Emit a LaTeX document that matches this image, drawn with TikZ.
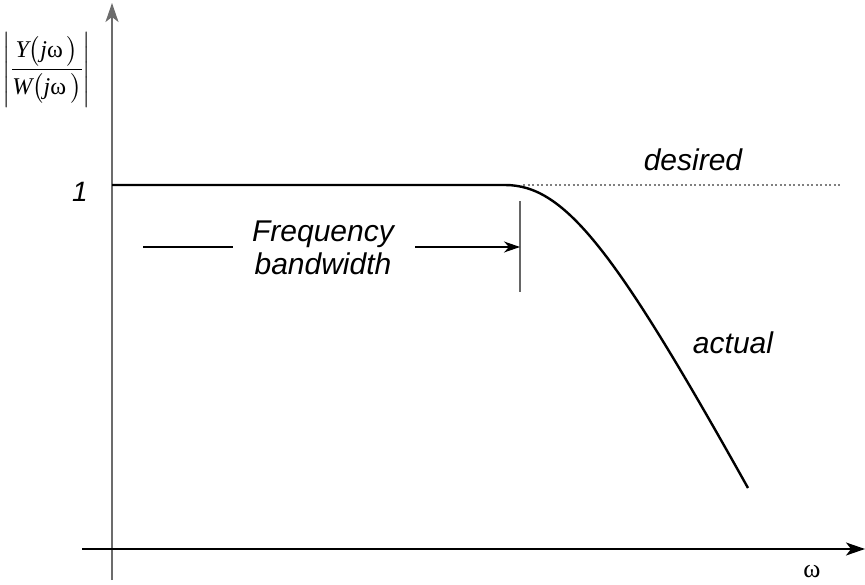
\documentclass[tikz,border=0pt]{standalone}
\usepackage{fontspec}
\usepackage{amsmath}
\setmainfont{Liberation Sans}
\newfontfamily\tfont{Liberation Serif}
\usetikzlibrary{arrows.meta}
\tikzset{
  axisline/.style={line width=1.4pt, -{Stealth[length=19pt, width=13pt, inset=5pt]}},
  curveline/.style={line width=2.4pt, black},
  lbl/.style={font=\fontsize{30}{33}\selectfont\itshape, inner sep=0pt, align=center},
  dimarrow/.style={line width=1.1pt, -{Stealth[length=16pt, width=11pt, inset=5pt]}},
}
\begin{document}
\begin{tikzpicture}[x=1pt, y=-1pt]
\useasboundingbox (0,0) rectangle (865,585);
% axes
\coordinate (ybot) at (112,580);
\coordinate (ytop) at (112,3);
\coordinate (xleft) at (82,549);
\coordinate (xright) at (865,549);
\draw[axisline, draw=gray!85!black, line width=1.8pt] (ybot) -- (ytop);
\draw[axisline] (xleft) -- (xright);
% ideal response
\coordinate (dstart) at (523,185);
\coordinate (dend) at (840,185);
\draw[gray, line width=1.2pt, dash pattern=on 2pt off 2.5pt] (dstart) -- (dend);
% real response
\coordinate (c0) at (112,185);
\coordinate (c1) at (505,185);
\coordinate (c3) at (748,488);
\draw[curveline] (c0) -- (c1) .. controls (565,185) and (615,250) .. (c3);
% bandwidth marker
\coordinate (tickt) at (520,201);
\coordinate (tickb) at (520,292);
\draw[gray!80!black, line width=1.3pt] (tickt) -- (tickb);
\node[lbl] (fb) at (323,248) {Frequency\\bandwidth};
\coordinate (bwl) at (143,247);
\coordinate (bwla) at (233,247);
\coordinate (bwr) at (415,247);
\draw[line width=1.1pt] (bwl) -- (bwla);
\draw[dimarrow] (bwr) -- (tickt |- bwr);
% labels
\node[lbl] (des) at (693,160) {desired};
\node[lbl] (act) at (733,343) {actual};
\node[lbl, font=\fontsize{28}{30}\selectfont\itshape] (one) at (80,192) {1};
\node[inner sep=0pt, font=\fontsize{26}{28}\selectfont\tfont] (om) at (812,572) {ω};
\node[inner sep=0pt, font=\fontsize{24}{28}\selectfont] (ylab) at (47,70)
  {$\displaystyle\left|\frac{\mbox{\tfont\itshape Y}\bigl(\mbox{\tfont\itshape j}\mbox{\tfont ω}\,\bigr)}{\mbox{\tfont\itshape W}\bigl(\mbox{\tfont\itshape j}\mbox{\tfont ω}\,\bigr)}\right|$};
\end{tikzpicture}
\end{document}
